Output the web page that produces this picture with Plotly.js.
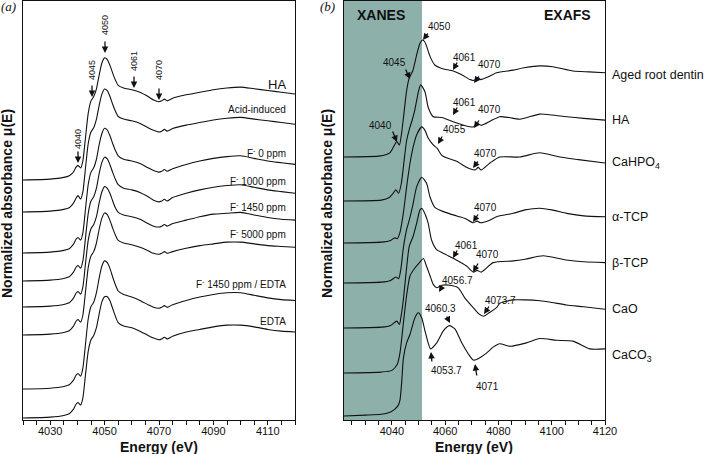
<!DOCTYPE html>
<html>
<head>
<meta charset="utf-8">
<script src="https://cdn.plot.ly/plotly-3.0.1.min.js"></script>
<style>html,body{margin:0;padding:0;background:#fff;}#chart{width:705px;height:454px;}</style>
</head>
<body>
<div id="chart"></div>
<script>
// ---------- Panel (a) data ----------
const energyA = [4020, 4030, 4035, 4037, 4038.5, 4039.5, 4040.2, 4041.2, 4042, 4043, 4044, 4045, 4046, 4047, 4048, 4049, 4050, 4051, 4052, 4053, 4054, 4055, 4057, 4060, 4063, 4066, 4068, 4070, 4071, 4072, 4073, 4075, 4080, 4085, 4090, 4095, 4100, 4105, 4110, 4115, 4120];
const namesA = ["HA", "Acid-induced", "F<sup>-</sup> 0 ppm", "F<sup>-</sup> 1000 ppm", "F<sup>-</sup> 1450 ppm", "F<sup>-</sup> 5000 ppm", "F<sup>-</sup> 1450 ppm / EDTA", "EDTA"];
const offsetsA = [2.791, 2.419, 1.942, 1.616, 1.314, 0.988, 0.360, 0.023];
const muHA = [0.00, 0.01, 0.03, 0.05, 0.09, 0.15, 0.17, 0.14, 0.22, 0.50, 0.78, 0.92, 0.97, 1.06, 1.22, 1.36, 1.42, 1.40, 1.33, 1.24, 1.16, 1.10, 1.07, 1.05, 1.02, 0.97, 0.93, 0.91, 0.92, 0.94, 0.92, 0.95, 0.99, 1.02, 1.05, 1.07, 1.08, 1.06, 1.04, 1.02, 1.00];
const muAcid = [0.00, 0.01, 0.03, 0.05, 0.10, 0.16, 0.19, 0.15, 0.23, 0.52, 0.80, 0.93, 0.98, 1.08, 1.24, 1.37, 1.43, 1.41, 1.34, 1.25, 1.17, 1.11, 1.08, 1.06, 1.03, 0.98, 0.95, 0.93, 0.94, 0.96, 0.94, 0.97, 1.01, 1.04, 1.07, 1.09, 1.10, 1.08, 1.06, 1.04, 1.02];
const muF0 = [0.00, 0.01, 0.03, 0.05, 0.10, 0.16, 0.18, 0.15, 0.23, 0.52, 0.80, 0.94, 0.99, 1.09, 1.26, 1.39, 1.45, 1.43, 1.36, 1.27, 1.19, 1.13, 1.09, 1.07, 1.04, 0.99, 0.96, 0.94, 0.95, 0.97, 0.95, 0.98, 1.03, 1.07, 1.10, 1.12, 1.13, 1.10, 1.07, 1.05, 1.03];
const muF1000 = [0.00, 0.01, 0.03, 0.05, 0.10, 0.16, 0.18, 0.15, 0.23, 0.51, 0.79, 0.93, 0.98, 1.08, 1.25, 1.38, 1.44, 1.42, 1.35, 1.26, 1.18, 1.12, 1.08, 1.06, 1.03, 0.98, 0.94, 0.92, 0.93, 0.95, 0.93, 0.97, 1.02, 1.06, 1.09, 1.11, 1.12, 1.09, 1.06, 1.04, 1.02];
const muF1450 = [0.00, 0.01, 0.03, 0.05, 0.10, 0.16, 0.18, 0.15, 0.23, 0.51, 0.78, 0.91, 0.96, 1.05, 1.21, 1.34, 1.40, 1.38, 1.32, 1.23, 1.15, 1.10, 1.07, 1.05, 1.02, 0.97, 0.94, 0.93, 0.94, 0.96, 0.94, 0.97, 1.01, 1.05, 1.08, 1.09, 1.10, 1.07, 1.04, 1.02, 1.01];
const muF5000 = [0.00, 0.01, 0.03, 0.05, 0.10, 0.16, 0.18, 0.15, 0.23, 0.51, 0.79, 0.92, 0.97, 1.07, 1.23, 1.36, 1.42, 1.40, 1.33, 1.24, 1.16, 1.10, 1.07, 1.05, 1.02, 0.98, 0.95, 0.94, 0.95, 0.97, 0.95, 0.97, 1.01, 1.04, 1.06, 1.08, 1.08, 1.06, 1.04, 1.03, 1.02];
const muF1450EDTA = [0.00, 0.01, 0.03, 0.05, 0.10, 0.16, 0.18, 0.15, 0.24, 0.53, 0.82, 0.96, 1.01, 1.12, 1.29, 1.43, 1.49, 1.47, 1.40, 1.30, 1.21, 1.14, 1.10, 1.07, 1.03, 0.98, 0.95, 0.94, 0.95, 0.97, 0.95, 0.98, 1.03, 1.07, 1.10, 1.12, 1.12, 1.09, 1.06, 1.04, 1.03];
const muEDTA = [0.00, 0.01, 0.03, 0.05, 0.10, 0.16, 0.18, 0.15, 0.23, 0.51, 0.78, 0.91, 0.96, 1.05, 1.21, 1.35, 1.41, 1.41, 1.36, 1.27, 1.18, 1.11, 1.07, 1.05, 1.01, 0.96, 0.93, 0.91, 0.92, 0.94, 0.92, 0.95, 1.00, 1.03, 1.06, 1.08, 1.08, 1.06, 1.03, 1.01, 1.00];
const seriesA = [muHA, muAcid, muF0, muF1000, muF1450, muF5000, muF1450EDTA, muEDTA];

// ---------- Panel (b) data ----------
const namesB = ["Aged root dentin", "HA", "CaHPO<sub>4</sub>", "α-TCP", "β-TCP", "CaO", "CaCO<sub>3</sub>"];
const offsetsB = [3.058, 2.547, 2.058, 1.593, 1.070, 0.547, 0.047];
const eAged = [4022, 4035, 4038, 4039.3, 4040.8, 4041.8, 4042.8, 4043.5, 4044.3, 4045.5, 4046.5, 4047.8, 4049.3, 4050.5, 4051.5, 4052.3, 4053, 4054.3, 4056.1, 4058.7, 4063, 4066, 4069.3, 4070.5, 4071.5, 4072.4, 4073.3, 4076, 4079.3, 4085.5, 4090, 4095.5, 4100.4, 4108, 4114, 4120];
const muAged = [0, 0.01, 0.03, 0.05, 0.13, 0.18, 0.14, 0.25, 0.45, 0.77, 0.92, 1.00, 1.19, 1.32, 1.36, 1.34, 1.29, 1.17, 1.07, 1.03, 1.00, 0.96, 0.90, 0.89, 0.90, 0.92, 0.90, 0.93, 0.98, 1.01, 1.04, 1.06, 1.05, 1.00, 0.99, 0.98];
const eHA = [4022, 4036, 4039, 4040.5, 4041.5, 4042.5, 4043.5, 4044.5, 4045.5, 4046.5, 4047.5, 4048.6, 4050, 4050.8, 4052.4, 4053.6, 4055.5, 4058.7, 4063, 4067, 4070.5, 4072, 4073.5, 4077, 4080.5, 4084, 4088, 4095.5, 4100, 4105.6, 4112, 4120];
const muHAb = [0, 0.01, 0.04, 0.09, 0.13, 0.09, 0.20, 0.45, 0.70, 0.83, 0.93, 1.06, 1.28, 1.35, 1.27, 1.09, 0.98, 0.97, 0.92, 0.88, 0.86, 0.90, 0.88, 0.93, 0.98, 0.97, 0.95, 1.01, 1.00, 0.98, 0.96, 0.94];
const eCaHPO4 = [4022, 4036, 4039.5, 4041, 4042, 4043, 4044.3, 4045.5, 4046.8, 4048, 4049.3, 4051.2, 4052.4, 4053.6, 4055.5, 4057, 4058.7, 4060.5, 4064.3, 4068, 4071.2, 4072.4, 4073.5, 4076.8, 4080.5, 4088, 4095.5, 4103, 4110, 4120];
const muCaHPO4 = [0, 0.01, 0.03, 0.06, 0.05, 0.12, 0.35, 0.65, 0.93, 1.12, 1.26, 1.35, 1.31, 1.22, 1.14, 1.10, 1.02, 0.99, 0.95, 0.88, 0.85, 0.88, 0.85, 0.93, 1.00, 1.00, 1.05, 1.00, 0.97, 0.93];
const eATCP = [4022, 4036, 4039.5, 4041.5, 4042.5, 4043.3, 4044.3, 4045.5, 4046.5, 4047.8, 4049.3, 4051.2, 4053, 4054.3, 4056.1, 4059.3, 4064.3, 4067.5, 4070.5, 4072, 4073.3, 4076, 4079.3, 4085.5, 4090, 4095.5, 4100, 4105.6, 4112, 4120];
const muATCP = [0, 0.01, 0.03, 0.07, 0.05, 0.15, 0.41, 0.62, 0.73, 0.90, 1.12, 1.23, 1.16, 1.00, 0.88, 0.83, 0.78, 0.75, 0.70, 0.72, 0.70, 0.72, 0.77, 0.81, 0.85, 0.87, 0.85, 0.81, 0.78, 0.77];
const eBTCP = [4022, 4036, 4039.5, 4041.8, 4042.8, 4043.5, 4044.3, 4045.5, 4046.5, 4048, 4049.3, 4050.5, 4051.3, 4052.5, 4053.6, 4054.9, 4056.8, 4060.5, 4063, 4068, 4070.5, 4072, 4073.5, 4078, 4085.5, 4090, 4096.8, 4105.6, 4112, 4120];
const muBTCP = [0, 0.01, 0.03, 0.08, 0.04, 0.15, 0.33, 0.70, 0.95, 1.07, 1.22, 1.37, 1.39, 1.32, 1.22, 1.02, 0.91, 0.85, 0.81, 0.72, 0.65, 0.67, 0.65, 0.76, 0.78, 0.80, 0.84, 0.79, 0.77, 0.76];
const eCaO = [4022, 4036, 4040, 4042, 4043, 4044.3, 4045.5, 4046.8, 4048.6, 4050.5, 4051.8, 4053, 4054.3, 4055.5, 4056.8, 4058.7, 4061.8, 4064.9, 4067.4, 4070.5, 4072.5, 4074.5, 4076.5, 4079.3, 4080.5, 4085.5, 4090, 4095.5, 4100, 4105.6, 4112, 4120];
const muCaO = [0, 0.01, 0.03, 0.10, 0.23, 0.58, 0.90, 1.13, 1.22, 1.29, 1.33, 1.24, 1.13, 1.03, 0.99, 1.02, 1.02, 0.99, 0.87, 0.76, 0.69, 0.66, 0.70, 0.76, 0.81, 0.85, 0.85, 0.84, 0.82, 0.79, 0.77, 0.74];
const eCaCO3 = [4022, 4030, 4036, 4039, 4041.1, 4042.3, 4043, 4043.7, 4044.3, 4045.5, 4046.8, 4048.6, 4049.9, 4051.2, 4052.4, 4053.6, 4054.5, 4056.8, 4059.3, 4061.6, 4063.7, 4066.2, 4068.7, 4070.5, 4072, 4075.5, 4078, 4080.5, 4084.3, 4090.5, 4095.5, 4101.8, 4108, 4114.3, 4120];
const muCaCO3 = [0, 0.01, 0.02, 0.04, 0.08, 0.12, 0.18, 0.41, 0.67, 0.85, 0.95, 1.14, 1.20, 1.14, 0.99, 0.85, 0.78, 0.85, 0.99, 1.05, 1.01, 0.85, 0.72, 0.65, 0.66, 0.73, 0.80, 0.84, 0.81, 0.85, 0.90, 0.88, 0.87, 0.78, 0.78];
const energyB = [eAged, eHA, eCaHPO4, eATCP, eBTCP, eCaO, eCaCO3];
const seriesB = [muAged, muHAb, muCaHPO4, muATCP, muBTCP, muCaO, muCaCO3];

const ticksA = [4030, 4050, 4070, 4090, 4110];
const ticksB = [4040, 4060, 4080, 4100, 4120];

// ---------- geometry helpers (pixel -> coordinates) ----------
const PL = 23, PR = 605, PT = 1, PB = 420;
const PW = PR - PL, PH = PB - PT;
const YMAX = PH / 86;
const paperX = px => (px - PL) / PW;
const paperY = py => (PB - py) / PH;
const dataY = py => (PB - py) / 86;
const xA = px => 4020 + (px - 23) * 100 / 272;
const xB = px => 4022 + (px - 344) * 98 / 261;

const FONT = "Liberation Sans, Arial, Helvetica, sans-serif";
const traces = [];
seriesA.forEach((s, i) => {
  traces.push({x: energyA, y: s.map(v => v + offsetsA[i]), xaxis: 'x', yaxis: 'y', type: 'scatter', mode: 'lines',
    line: {color: '#111', width: 1.1, shape: 'spline', smoothing: 0.6}, hoverinfo: 'skip', showlegend: false});
});
seriesB.forEach((s, i) => {
  traces.push({x: energyB[i], y: s.map(v => v + offsetsB[i]), xaxis: 'x2', yaxis: 'y2', type: 'scatter', mode: 'lines',
    line: {color: '#111', width: 1.1, shape: 'spline', smoothing: 0.6}, hoverinfo: 'skip', showlegend: false});
});

const ann = [];
function txt(text, px, py, size, opts) {
  ann.push(Object.assign({text: text, xref: 'paper', yref: 'paper', x: paperX(px), y: paperY(py), showarrow: false,
    xanchor: 'center', yanchor: 'middle', font: {family: FONT, size: size, color: '#111'}}, opts || {}));
}
function arrow(panel, tx, ty, hx, hy) {
  const isA = panel === 'a';
  ann.push({text: '', xref: isA ? 'x' : 'x2', yref: isA ? 'y' : 'y2', x: isA ? xA(hx) : xB(hx), y: dataY(hy),
    ax: tx - hx, ay: ty - hy, showarrow: true, arrowhead: 2, arrowsize: 1, arrowwidth: 1.3, arrowcolor: '#111'});
}

// Panel (a) labels
txt('HA', 288, 84, 13, {xanchor: 'right'});
const labelYA = [110, 153, 181, 207, 234, 284, 321];
namesA.slice(1).forEach((n, i) => txt(n, 288, labelYA[i], 10, {xanchor: 'right'}));
// Panel (a) energy markers (rotated)
[['4040', 78, 139, 163], ['4045', 92, 70, 97], ['4050', 105, 25, 53], ['4061', 134, 61, 88], ['4070', 159, 70, 100]].forEach(a => {
  txt(a[0], a[1], a[2], 9, {textangle: -90});
  arrow('a', a[1], a[3] - 13, a[1], a[3]);
});

// Panel (b) labels
const labelYB = [75, 120, 163, 217, 263, 309, 356];
namesB.forEach((n, i) => txt(n, 610, labelYB[i], 12.5, {xanchor: 'left'}));
txt('<b>XANES</b>', 381, 15, 14);
txt('<b>EXAFS</b>', 567, 15, 14);
const marksB = [
  ['4050', 439, 27, 429, 32, 423, 40], ['4045', 394, 63, 405, 68, 410, 79], ['4040', 380, 125, 392, 130, 397, 142],
  ['4061', 464, 57, 458, 61, 453, 70], ['4070', 489, 65, 480, 75, 474, 83],
  ['4061', 464, 102, 458, 106, 453, 115], ['4070', 489, 110, 480, 119, 474, 128],
  ['4055', 454, 130, 443, 135, 438, 144], ['4070', 486, 153, 479, 160, 473, 168],
  ['4070', 486, 207, 479, 213, 473, 222],
  ['4061', 466, 245, 458, 249, 453, 258], ['4070', 487, 255, 479, 262, 473, 272],
  ['4056.7', 457, 280, 443, 285, 439, 292], ['4073.7', 500, 300, 490, 305, 484, 314],
  ['4060.3', 440, 308, 446, 315, 450, 323], ['4053.7', 446, 370, 432, 363, 431, 352], ['4071', 487, 386, 477, 377, 475, 364]
];
marksB.forEach(m => { txt(m[0], m[1], m[2], 10); arrow('b', m[3], m[4], m[5], m[6]); });

// axis titles and panel letters
txt('<b>Normalized absorbance μ(E)</b>', 7, 204, 14, {textangle: -90});
txt('<b>Normalized absorbance μ(E)</b>', 327, 204, 14, {textangle: -90});
txt('<b>Energy (eV)</b>', 159, 447, 14);
txt('<b>Energy (eV)</b>', 474, 447, 14);
txt('<i>(a)</i>', 8, 7, 13, {font: {family: 'Liberation Serif, Times New Roman, serif', size: 13, color: '#111'}});
txt('<i>(b)</i>', 327, 7, 13, {font: {family: 'Liberation Serif, Times New Roman, serif', size: 13, color: '#111'}});

const axisCommon = {showline: true, mirror: true, linecolor: '#111', linewidth: 1.3, showgrid: false, zeroline: false,
  ticks: 'outside', ticklen: 4, tickwidth: 1, tickcolor: '#111', tickfont: {family: FONT, size: 11, color: '#111'},
  ticklabelstandoff: -4,
  minor: {dtick: 5, ticks: 'outside', ticklen: 4, tickcolor: '#111', showgrid: false}};
const yCommon = {showline: true, mirror: true, linecolor: '#111', linewidth: 1.3, showgrid: false, zeroline: false,
  showticklabels: false, ticks: '', range: [0, YMAX], fixedrange: true};

const layout = {
  width: 705, height: 454,
  margin: {l: PL, r: 705 - PR, t: PT, b: 454 - PB},
  paper_bgcolor: '#fff', plot_bgcolor: '#fff',
  font: {family: FONT, color: '#111'},
  xaxis: Object.assign({}, axisCommon, {domain: [0, 272 / PW], range: [4020, 4120], tickvals: ticksA, anchor: 'y'}),
  yaxis: Object.assign({}, yCommon, {anchor: 'x'}),
  xaxis2: Object.assign({}, axisCommon, {domain: [(344 - PL) / PW, 1], range: [4022, 4120], tickvals: ticksB, anchor: 'y2'}),
  yaxis2: Object.assign({}, yCommon, {anchor: 'x2'}),
  shapes: [{type: 'rect', xref: 'x2', yref: 'y2', x0: 4022, x1: 4051.3, y0: 0, y1: YMAX, fillcolor: '#8eb0ab',
    line: {width: 0}, layer: 'below'}],
  annotations: ann,
  showlegend: false
};
Plotly.newPlot('chart', traces, layout, {staticPlot: true, displayModeBar: false});
</script>
</body>
</html>
